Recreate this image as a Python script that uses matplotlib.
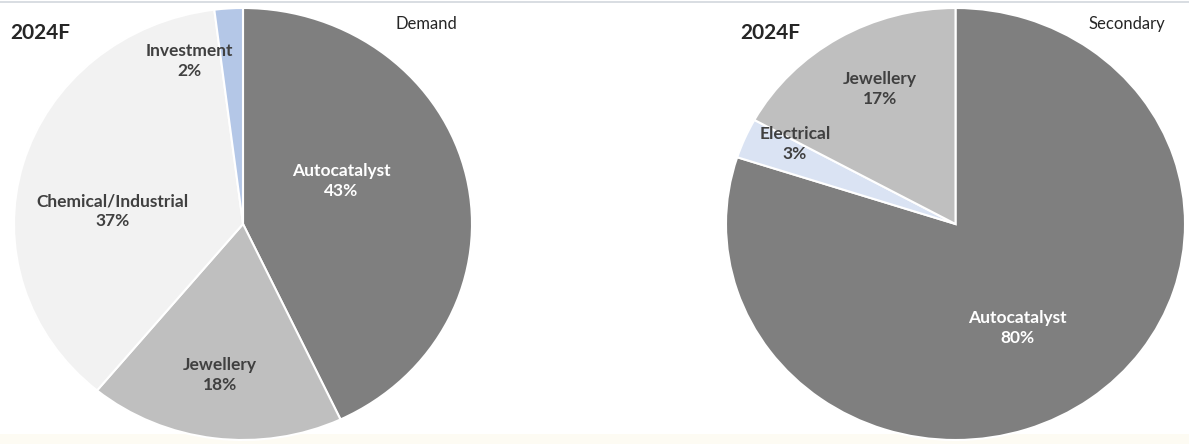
import matplotlib.pyplot as plt
from matplotlib.patches import Rectangle

# data
demand_labels = ['Autocatalyst', 'Jewellery', 'Chemical/Industrial', 'Investment']
demand_values = [43, 18, 37, 2]
secondary_labels = ['Autocatalyst', 'Electrical', 'Jewellery']
secondary_values = [80, 3, 17]

demand_colors = ['#7f7f7f', '#bfbfbf', '#f2f2f2', '#b4c7e7']
secondary_colors = ['#7f7f7f', '#dae3f3', '#bfbfbf']

# label positions in axes fraction (excel-ish best fit)
demand_pos = [(0.714, 0.60), (0.45, 0.15), (0.215, 0.53), (0.384, 0.877)]
demand_txt = ['white', '#404040', '#404040', '#404040']
secondary_pos = [(0.634, 0.259), (0.15, 0.685), (0.335, 0.812)]
secondary_txt = ['white', '#404040', '#404040']

W, H = 1189, 444
fig = plt.figure(figsize=(W / 100, H / 100), dpi=100)
fig.patch.set_facecolor('white')

# thin frame line at top and beige strip at bottom
fig.add_artist(Rectangle((0, 1 - 3 / H), 1, 1.5 / H, transform=fig.transFigure,
                         color='#d9dde2', lw=0))
fig.add_artist(Rectangle((0, 0), 1, 10 / H, transform=fig.transFigure,
                         color='#fdfbf3', lw=0, zorder=0))

font = ['Lato', 'DejaVu Sans']


def draw_pie(box, values, labels, colors, pos, txtcol):
    x0, y0, x1, y1 = box
    ax = fig.add_axes([x0 / W, 1 - y1 / H, (x1 - x0) / W, (y1 - y0) / H])
    ax.pie(values, colors=colors, startangle=90, counterclock=False, radius=1,
           wedgeprops=dict(edgecolor='white', linewidth=1.5))
    ax.set_aspect('auto')
    ax.set_xlim(-1, 1)
    ax.set_ylim(-1, 1)
    ax.axis('off')
    total = sum(values)
    for lab, v, (px, py), c in zip(labels, values, pos, txtcol):
        ax.text(px, py, '%s\n%d%%' % (lab, round(v / total * 100)),
                transform=ax.transAxes, ha='center', va='center',
                fontsize=12.5, fontweight='bold', color=c, family=font,
                linespacing=1.3)
    return ax


draw_pie((14, 8, 472, 440), demand_values, demand_labels, demand_colors,
         demand_pos, demand_txt)
draw_pie((726, 8, 1185, 440), secondary_values, secondary_labels, secondary_colors,
         secondary_pos, secondary_txt)

fig.text(10 / W, 1 - 33 / H, '2024F', fontsize=15, fontweight='bold',
         color='#262626', family=font, va='center')
fig.text(740 / W, 1 - 33 / H, '2024F', fontsize=15, fontweight='bold',
         color='#262626', family=font, va='center')
fig.text(426 / W, 1 - 24 / H, 'Demand', fontsize=12, color='#262626',
         family=font, va='center', ha='center')
fig.text(1127 / W, 1 - 24 / H, 'Secondary', fontsize=12, color='#262626',
         family=font, va='center', ha='center')

fig.savefig('out.png', dpi=100)
